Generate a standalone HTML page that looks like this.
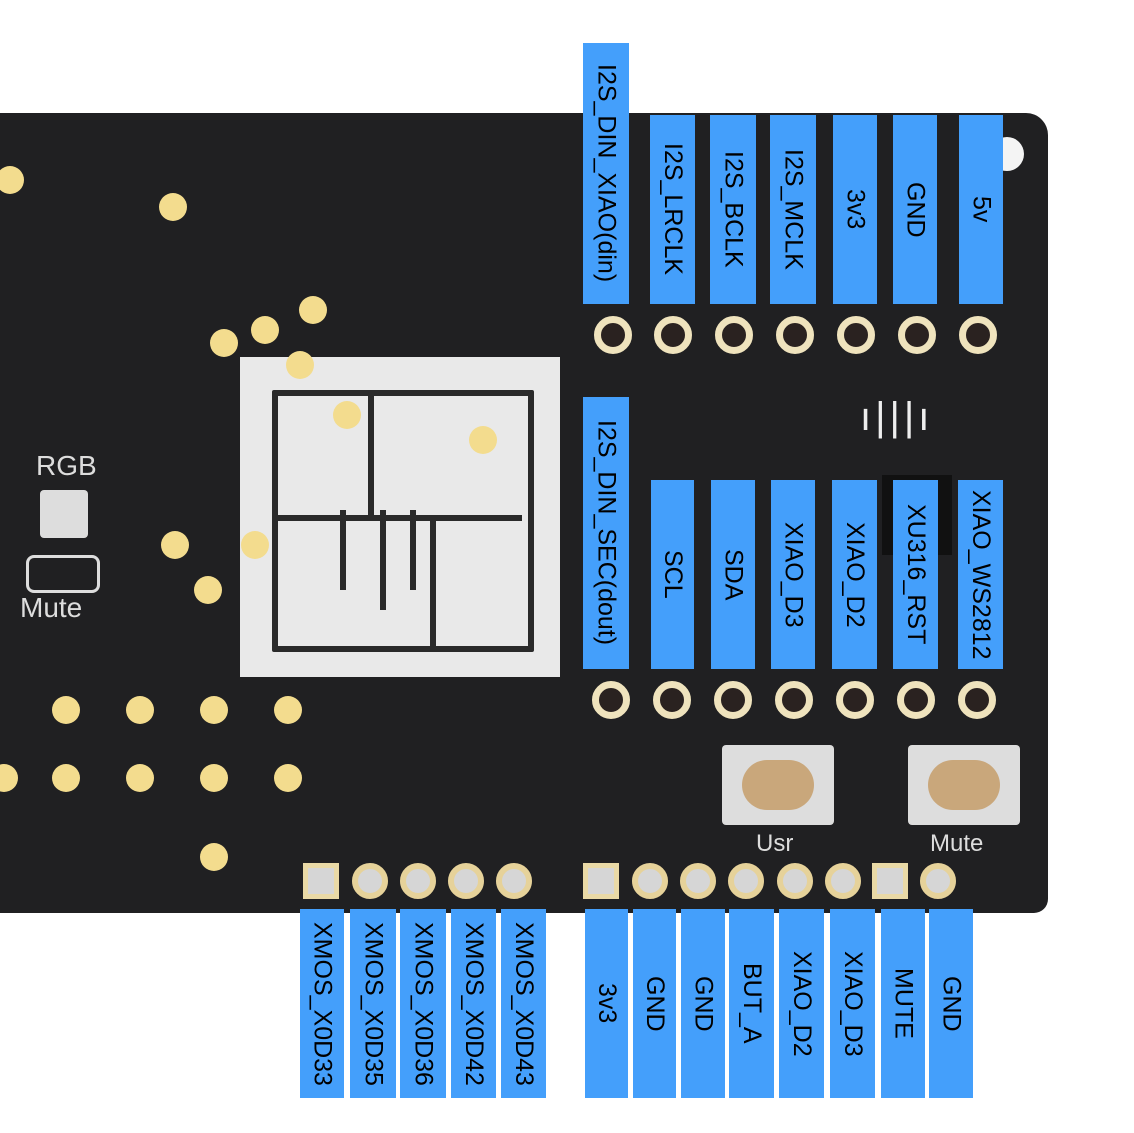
<!DOCTYPE html>
<html><head><style>
body{margin:0;width:1134px;height:1133px;background:#fff;position:relative;overflow:hidden;font-family:"Liberation Sans",sans-serif}
.a{position:absolute}
.board{left:-20px;top:113px;width:1068px;height:800px;background:#202022;border-radius:0 22px 14px 0}
.lb{position:absolute;background:#449ffb;display:flex;align-items:center;justify-content:center;writing-mode:vertical-rl;font-size:25px;color:#000;line-height:1}
.h{position:absolute;width:24px;height:24px;border-radius:50%;border:7px solid #efe3bd;background:#2a2220;transform:translate(-19px,-19px)}
.p{position:absolute;width:24px;height:24px;border-radius:50%;border:6px solid #e6d29a;background:#d6d6d6;transform:translate(-18px,-18px)}
.s{position:absolute;width:26px;height:26px;border:5px solid #e9d9a6;background:#d6d6d6;transform:translate(-18px,-18px)}
.g{position:absolute;width:28px;height:28px;border-radius:50%;background:#f3dc8e;transform:translate(-14px,-14px)}
</style></head><body>
<div class="a board"></div>
<div class="a" style="left:240px;top:357px;width:320px;height:320px;background:#e9e9e9"></div>
<div class="a" style="left:272px;top:390px;width:250px;height:250px;border:6px solid #2a2a2a;border-radius:2px"></div>
<div class="a" style="left:272px;top:515px;width:250px;height:6px;background:#2a2a2a"></div>
<div class="a" style="left:368px;top:390px;width:6px;height:130px;background:#2a2a2a"></div>
<div class="a" style="left:430px;top:520px;width:6px;height:126px;background:#2a2a2a"></div>
<div class="a" style="left:340px;top:510px;width:6px;height:80px;background:#2a2a2a"></div>
<div class="a" style="left:380px;top:510px;width:6px;height:100px;background:#2a2a2a"></div>
<div class="a" style="left:410px;top:510px;width:6px;height:80px;background:#2a2a2a"></div>
<div class="g" style="left:10px;top:180px"></div><div class="g" style="left:173px;top:207px"></div>
<div class="g" style="left:313px;top:310px"></div><div class="g" style="left:265px;top:330px"></div>
<div class="g" style="left:224px;top:343px"></div><div class="g" style="left:300px;top:365px"></div>
<div class="g" style="left:347px;top:415px"></div><div class="g" style="left:483px;top:440px"></div>
<div class="g" style="left:175px;top:545px"></div><div class="g" style="left:255px;top:545px"></div>
<div class="g" style="left:208px;top:590px"></div>
<div class="g" style="left:66px;top:710px"></div><div class="g" style="left:140px;top:710px"></div><div class="g" style="left:214px;top:710px"></div><div class="g" style="left:288px;top:710px"></div>
<div class="g" style="left:4px;top:778px"></div><div class="g" style="left:66px;top:778px"></div><div class="g" style="left:140px;top:778px"></div><div class="g" style="left:214px;top:778px"></div><div class="g" style="left:288px;top:778px"></div>
<div class="g" style="left:214px;top:857px"></div>
<div class="a" style="left:36px;top:450px;color:#ddd;font-size:28px">RGB</div>
<div class="a" style="left:20px;top:592px;color:#ddd;font-size:28px">Mute</div>
<div class="a" style="left:40px;top:490px;width:48px;height:48px;background:#ddd;border-radius:4px"></div>
<div class="a" style="left:26px;top:555px;width:68px;height:32px;border:3px solid #ddd;border-radius:8px"></div>
<div class="a" style="left:722px;top:745px;width:112px;height:80px;background:#ddd;border-radius:4px"></div>
<div class="a" style="left:742px;top:760px;width:72px;height:50px;background:#c9a77b;border-radius:25px"></div>
<div class="a" style="left:908px;top:745px;width:112px;height:80px;background:#ddd;border-radius:4px"></div>
<div class="a" style="left:928px;top:760px;width:72px;height:50px;background:#c9a77b;border-radius:25px"></div>
<div class="a" style="left:756px;top:830px;color:#ddd;font-size:24px">Usr</div>
<div class="a" style="left:930px;top:830px;color:#ddd;font-size:24px">Mute</div>
<div class="a" style="left:990px;top:137px;width:34px;height:34px;border-radius:50%;background:#f4f4f4"></div>
<div class="a" style="left:860px;top:395px;color:#eee;font-size:40px;letter-spacing:4px">ı|||ı</div>
<div class="a" style="left:882px;top:475px;width:70px;height:80px;background:#111"></div>
<div class="h" style="left:613px;top:335px"></div><div class="h" style="left:673px;top:335px"></div><div class="h" style="left:734px;top:335px"></div><div class="h" style="left:795px;top:335px"></div><div class="h" style="left:856px;top:335px"></div><div class="h" style="left:917px;top:335px"></div><div class="h" style="left:978px;top:335px"></div>
<div class="h" style="left:611px;top:700px"></div><div class="h" style="left:672px;top:700px"></div><div class="h" style="left:733px;top:700px"></div><div class="h" style="left:794px;top:700px"></div><div class="h" style="left:855px;top:700px"></div><div class="h" style="left:916px;top:700px"></div><div class="h" style="left:977px;top:700px"></div>
<div class="s" style="left:321px;top:881px"></div><div class="p" style="left:370px;top:881px"></div><div class="p" style="left:418px;top:881px"></div><div class="p" style="left:466px;top:881px"></div><div class="p" style="left:514px;top:881px"></div>
<div class="s" style="left:601px;top:881px"></div><div class="p" style="left:650px;top:881px"></div><div class="p" style="left:698px;top:881px"></div><div class="p" style="left:746px;top:881px"></div><div class="p" style="left:795px;top:881px"></div><div class="p" style="left:843px;top:881px"></div><div class="s" style="left:890px;top:881px"></div><div class="p" style="left:938px;top:881px"></div>
<div class="lb" style="left:583px;top:43px;width:46px;height:261px">I2S_DIN_XIAO(din)</div>
<div class="lb" style="left:650px;top:115px;width:45px;height:189px">I2S_LRCLK</div>
<div class="lb" style="left:710px;top:115px;width:46px;height:189px">I2S_BCLK</div>
<div class="lb" style="left:770px;top:115px;width:46px;height:189px">I2S_MCLK</div>
<div class="lb" style="left:833px;top:115px;width:44px;height:189px">3v3</div>
<div class="lb" style="left:893px;top:115px;width:44px;height:189px">GND</div>
<div class="lb" style="left:959px;top:115px;width:44px;height:189px">5v</div>
<div class="lb" style="left:583px;top:397px;width:46px;height:272px">I2S_DIN_SEC(dout)</div>
<div class="lb" style="left:651px;top:480px;width:43px;height:189px">SCL</div>
<div class="lb" style="left:711px;top:480px;width:44px;height:189px">SDA</div>
<div class="lb" style="left:771px;top:480px;width:44px;height:189px">XIAO_D3</div>
<div class="lb" style="left:832px;top:480px;width:45px;height:189px">XIAO_D2</div>
<div class="lb" style="left:893px;top:480px;width:45px;height:189px">XU316_RST</div>
<div class="lb" style="left:958px;top:480px;width:45px;height:189px">XIAO_WS2812</div>
<div class="lb" style="left:300px;top:909px;width:44px;height:189px">XMOS_X0D33</div>
<div class="lb" style="left:350px;top:909px;width:46px;height:189px">XMOS_X0D35</div>
<div class="lb" style="left:400px;top:909px;width:46px;height:189px">XMOS_X0D36</div>
<div class="lb" style="left:451px;top:909px;width:45px;height:189px">XMOS_X0D42</div>
<div class="lb" style="left:501px;top:909px;width:45px;height:189px">XMOS_X0D43</div>
<div class="lb" style="left:585px;top:909px;width:43px;height:189px">3v3</div>
<div class="lb" style="left:633px;top:909px;width:43px;height:189px">GND</div>
<div class="lb" style="left:681px;top:909px;width:44px;height:189px">GND</div>
<div class="lb" style="left:729px;top:909px;width:45px;height:189px">BUT_A</div>
<div class="lb" style="left:779px;top:909px;width:45px;height:189px">XIAO_D2</div>
<div class="lb" style="left:830px;top:909px;width:45px;height:189px">XIAO_D3</div>
<div class="lb" style="left:881px;top:909px;width:44px;height:189px">MUTE</div>
<div class="lb" style="left:929px;top:909px;width:44px;height:189px">GND</div>
</body></html>
